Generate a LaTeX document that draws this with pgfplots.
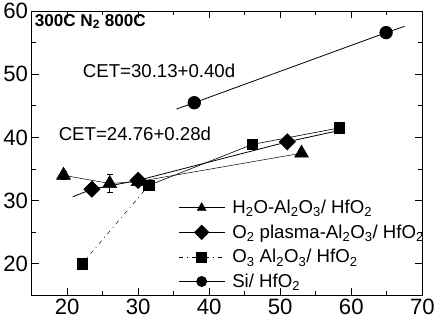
\documentclass[border=0pt]{standalone}
\usepackage{pgfplots}
\pgfplotsset{compat=1.18}
\usepackage{fontspec}
\setmainfont{Liberation Sans}
\begin{document}
\begin{tikzpicture}
\begin{axis}[
  scale only axis, width=388pt, height=282pt,
  xmin=15, xmax=70, ymin=15, ymax=60,
  xtick={20,30,...,70}, ytick={20,30,...,60},
  minor x tick num=1, minor y tick num=1,
  tick align=inside, tick pos=both,
  major tick length=7pt, minor tick length=4pt,
  tick style={line width=0.9pt, black},
  axis line style={line width=1.1pt},
  tick label style={font=\fontsize{22}{24}\selectfont},
  /pgf/number format/assume math mode=true,
  legend style={at={(axis cs:35.6,30.4)}, anchor=north west, draw=none, fill=none,
     font=\fontsize{18.5}{20}\selectfont, inner sep=0pt, row sep=5.5pt,
     cells={anchor=west},
     /tikz/every odd column/.append style={column sep=5pt}},
  legend cell align=left,
  legend image code/.code={\draw[#1] plot coordinates {(0pt,0pt)(23pt,0pt)(46pt,0pt)};},
  legend image post style={mark indices={2}, mark size=5pt},
]
% H2O-Al2O3/HfO2
\addplot[line width=0.5pt, mark=triangle*, mark size=8pt,
  error bars/.cd, y dir=both, y explicit,
  error bar style={line width=0.6pt}, error mark options={rotate=90, mark size=3pt, line width=0.6pt}]
  coordinates {(19.5,34.0) +- (0,0.7) (26,32.7) +- (0,1.4) (30,33.0) +- (0,0.4) (53,37.5) +- (0,0)};
\addlegendentry{H\textsubscript{2}O-Al\textsubscript{2}O\textsubscript{3}/ HfO\textsubscript{2}}
% O2 plasma
\addplot[line width=0.8pt, mark=square*, mark options={rotate=45}, mark size=5.6pt, mark indices={2,3,4}]
  coordinates {(20.8,30.6)(23.5,31.8)(30,33.2)(51,39.3)(58.3,41.1)};
\addlegendentry{O\textsubscript{2} plasma-Al\textsubscript{2}O\textsubscript{3}/ HfO\textsubscript{2}}
% O3
\addplot[line width=0.5pt, dash pattern=on 4pt off 4pt on 1pt off 4pt, mark=square*, mark size=5.2pt, mark options={solid}]
  coordinates {(22.1,20.0)(31.5,32.4)};
\addlegendentry{O\textsubscript{3} Al\textsubscript{2}O\textsubscript{3}/ HfO\textsubscript{2}}
% Si
\addplot[line width=0.8pt, mark=*, mark size=6.2pt, mark indices={2,3}]
  coordinates {(35.4,44.5)(37.9,45.5)(64.9,56.6)(67.5,57.6)};
\addlegendentry{Si/ HfO\textsubscript{2}}
% O3 remaining
\addplot[forget plot, line width=0.6pt, mark=square*, mark size=5.2pt]
  coordinates {(31.5,32.4)(46.1,38.9)(58.3,41.5)};
\node[anchor=north west, font=\bfseries\fontsize{17}{19}\selectfont, inner sep=3pt] at (axis cs:15,60) {300C N\textsubscript{2} 800C};
\node[anchor=west, font=\fontsize{18.5}{20}\selectfont, inner sep=0pt] at (axis cs:22.2,50.5) {CET=30.13+0.40d};
\node[anchor=west, font=\fontsize{18.5}{20}\selectfont, inner sep=0pt] at (axis cs:18.8,40.5) {CET=24.76+0.28d};
\end{axis}
\end{tikzpicture}
\end{document}
